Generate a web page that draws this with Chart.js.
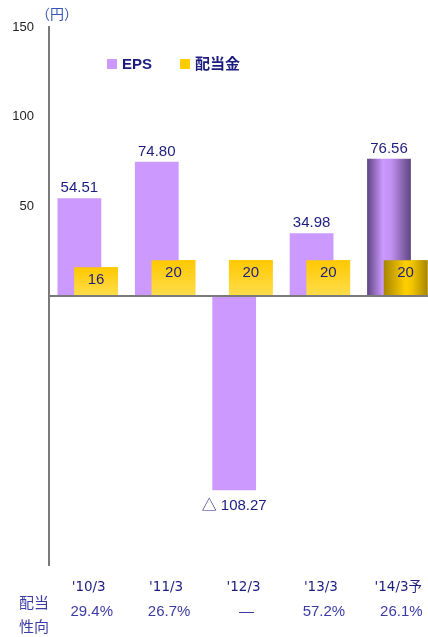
<!DOCTYPE html>
<html lang="ja">
<head>
<meta charset="utf-8">
<script src="https://cdn.jsdelivr.net/npm/chart.js@4"></script>
<style>
  html, body { margin: 0; padding: 0; background: #fff; overflow: hidden; }
  #wrap { position: relative; width: 436px; height: 637px; }
</style>
</head>
<body>
<div id="wrap"><canvas id="epsChart"></canvas></div>
<script>
const categories = ["'10/3", "'11/3", "'12/3", "'13/3", "'14/3予"];
const epsValues = [54.51, 74.80, -108.27, 34.98, 76.56];
const dividendValues = [16, 20, 20, 20, 20];
const payoutRatios = ["29.4%", "26.7%", "—", "57.2%", "26.1%"];
const yTickValues = [50, 100, 150];
const forecastIndex = 4;

const FONT = '"Liberation Sans", Arial, "Noto Sans CJK JP", sans-serif';
const CAT_FONT = '"DejaVu Sans", "Noto Sans CJK JP", sans-serif';
const NAVY = '#1c1c80';
const PAYOUT_BLUE = '#3b3ba6';

// forecast bars get a cylinder-like horizontal shading
function cylinder(ctx, bar, stops) {
  const half = bar.width / 2;
  const g = ctx.createLinearGradient(bar.x - half, 0, bar.x + half, 0);
  stops.forEach(s => g.addColorStop(s[0], s[1]));
  return g;
}

function laidOut(bar) {
  return bar && isFinite(bar.x) && isFinite(bar.width) && bar.width > 0;
}

function epsFill(c) {
  const flat = '#cc99ff';
  if (c.type !== 'data' || c.dataIndex !== forecastIndex) return flat;
  if (!laidOut(c.element)) return flat;
  return cylinder(c.chart.ctx, c.element, [[0, '#5e457f'], [0.36, '#cc99ff'], [0.55, '#c291f2'], [1, '#5f4680']]);
}

function dividendFill(c) {
  const flat = '#ffcc00';
  if (c.type !== 'data') return flat;
  const chart = c.chart;
  if (c.dataIndex === forecastIndex) {
    if (!laidOut(c.element)) return flat;
    return cylinder(chart.ctx, c.element, [[0, '#a68400'], [0.5, '#ffd000'], [0.65, '#f2c400'], [1, '#a88600']]);
  }
  const y = chart.scales.y;
  if (!y) return flat;
  const top = y.getPixelForValue(c.raw);
  const base = y.getPixelForValue(0);
  if (!isFinite(top) || !isFinite(base)) return flat;
  const g = chart.ctx.createLinearGradient(0, top, 0, base);
  g.addColorStop(0, '#ffc800');
  g.addColorStop(1, '#ffdd4d');
  return g;
}

const overlayPlugin = {
  id: 'overlay',
  afterDatasetsDraw(chart) {
    const ctx = chart.ctx;
    // dividend bars sit in front of the EPS bars
    chart.getDatasetMeta(1).controller.draw();

    ctx.save();
    ctx.fillStyle = NAVY;
    ctx.textAlign = 'center';
    ctx.font = '15px ' + FONT;
    chart.getDatasetMeta(0).data.forEach((bar, i) => {
      const v = epsValues[i];
      if (v >= 0) {
        ctx.textBaseline = 'alphabetic';
        ctx.fillText(v.toFixed(2), bar.x, bar.y - 6);
      } else {
        ctx.textBaseline = 'middle';
        ctx.fillText('△ ' + Math.abs(v).toFixed(2), bar.x, bar.y + 16);
      }
    });
    ctx.textBaseline = 'middle';
    chart.getDatasetMeta(1).data.forEach((bar, i) => {
      ctx.fillText(String(dividendValues[i]), bar.x, bar.y + 13);
    });
    ctx.restore();
  },
  afterDraw(chart) {
    const ctx = chart.ctx;
    const x = chart.scales.x;
    ctx.save();

    // unit
    ctx.fillStyle = '#3355b0';
    ctx.font = '14px ' + FONT;
    ctx.textAlign = 'center';
    ctx.textBaseline = 'middle';
    ctx.fillText('（円）', 57, 15);

    // legend
    const items = [
      { text: chart.data.datasets[0].label, color: '#cc99ff', x: 107 },
      { text: chart.data.datasets[1].label, color: '#ffcc00', x: 180 }
    ];
    ctx.font = 'bold 15px ' + FONT;
    ctx.textAlign = 'left';
    items.forEach(it => {
      ctx.fillStyle = it.color;
      ctx.fillRect(it.x, 59, 10, 10);
      ctx.fillStyle = NAVY;
      ctx.fillText(it.text, it.x + 15, 65);
    });

    // category labels and payout ratio row
    ctx.textAlign = 'center';
    ctx.font = '13.5px ' + CAT_FONT;
    ctx.fillStyle = NAVY;
    categories.forEach((lab, i) => {
      ctx.fillText(lab, x.getPixelForValue(i) + 1, 587);
    });
    ctx.font = '15px ' + FONT;
    ctx.fillStyle = PAYOUT_BLUE;
    payoutRatios.forEach((p, i) => {
      ctx.fillText(p, x.getPixelForValue(i) + 4, 612);
    });
    ctx.fillText('配当', 34, 604);
    ctx.fillText('性向', 34, 628);
    ctx.restore();
  }
};

const chart = new Chart(document.getElementById('epsChart'), {
  type: 'bar',
  data: {
    labels: categories,
    datasets: [
      {
        label: 'EPS',
        data: epsValues,
        backgroundColor: epsFill,
        categoryPercentage: 0.43,
        barPercentage: 2.63
      },
      {
        label: '配当金',
        data: dividendValues,
        backgroundColor: dividendFill,
        categoryPercentage: 0.43,
        barPercentage: 2.63
      }
    ]
  },
  options: {
    responsive: true,
    maintainAspectRatio: false,
    animation: false,
    layout: { padding: { top: 27, bottom: 72, left: 0, right: 0 } },
    plugins: {
      legend: { display: false },
      tooltip: { enabled: false }
    },
    scales: {
      x: { display: false },
      y: {
        min: -150,
        max: 150,
        z: 1,
        afterFit: s => { s.width = 49; },
        afterBuildTicks: s => { s.ticks = [-150, 0].concat(yTickValues).map(v => ({ value: v })); },
        ticks: {
          padding: 15,
          color: '#222',
          font: { family: FONT, size: 13 },
          callback: v => (yTickValues.includes(v) ? String(v) : '')
        },
        grid: {
          drawTicks: false,
          lineWidth: 2,
          color: c => (c.tick && c.tick.value === 0 ? '#7a7a7a' : 'rgba(0,0,0,0)')
        },
        border: { color: '#7a7a7a', width: 2 }
      }
    }
  },
  plugins: [overlayPlugin]
});

// second pass so the forecast gradients can use the laid-out bar positions
chart.update();
</script>
</body>
</html>
